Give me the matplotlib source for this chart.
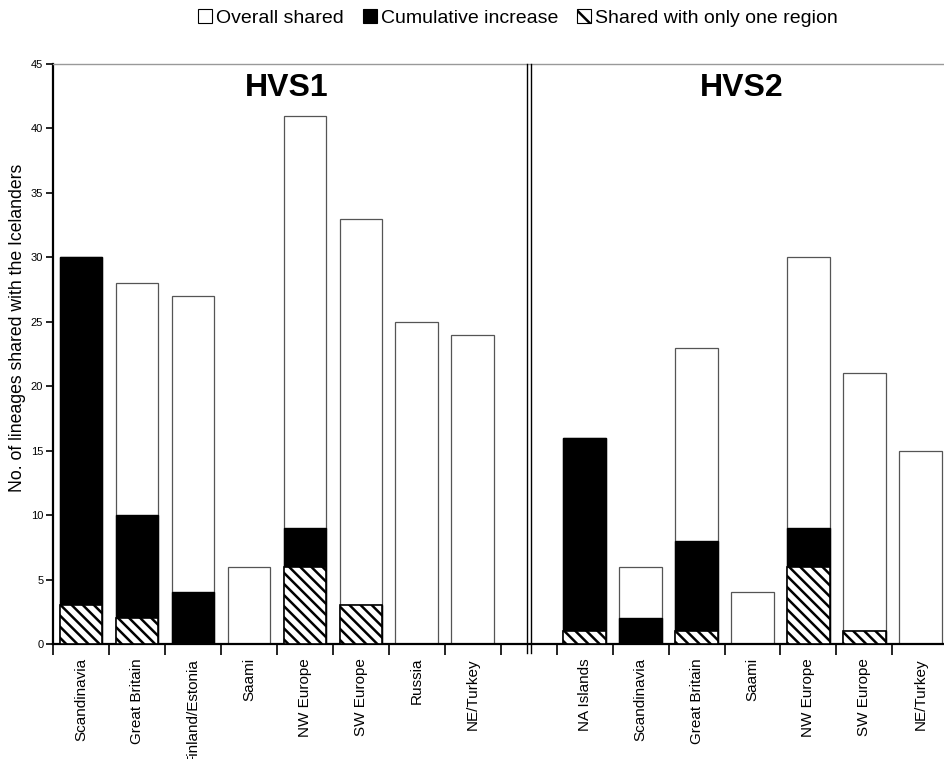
import matplotlib
matplotlib.use("Agg")
import matplotlib.pyplot as plt
from matplotlib.patches import Patch
import numpy as np

plt.rcParams['font.family'] = ['Liberation Sans', 'DejaVu Sans']
plt.rcParams['hatch.linewidth'] = 1.8

# ---- data ----
categories_hvs1 = ['Scandinavia', 'Great Britain', 'Finland/Estonia', 'Saami',
                   'NW Europe', 'SW Europe', 'Russia', 'NE/Turkey']
overall_hvs1 = [30, 28, 27, 6, 41, 33, 25, 24]
cumulative_hvs1 = [30, 10, 4, 0, 9, 3, 0, 0]
one_region_hvs1 = [3, 2, 0, 0, 6, 3, 0, 0]

categories_hvs2 = ['NA Islands', 'Scandinavia', 'Great Britain', 'Saami',
                   'NW Europe', 'SW Europe', 'NE/Turkey']
overall_hvs2 = [16, 6, 23, 4, 30, 21, 15]
cumulative_hvs2 = [16, 2, 8, 0, 9, 1, 0]
one_region_hvs2 = [1, 0, 1, 0, 6, 1, 0]

legend_labels = ['Overall shared', 'Cumulative increase', 'Shared with only one region']
panel_titles = ['HVS1', 'HVS2']
y_label = 'No. of lineages shared with the Icelanders'

# ---- layout ----
fig = plt.figure(figsize=(9.45, 7.59), dpi=100)
ax = fig.add_axes([53 / 945, 115 / 759, 892 / 945, 580 / 759])

pos1 = np.arange(len(categories_hvs1))
gap = len(categories_hvs1)  # slot of the divider
pos2 = np.arange(len(categories_hvs2)) + gap + 1
width = 0.76
hatch = '\\\\\\'

for pos, ov, cu, one in [(pos1, overall_hvs1, cumulative_hvs1, one_region_hvs1),
                         (pos2, overall_hvs2, cumulative_hvs2, one_region_hvs2)]:
    ax.bar(pos, ov, width, color='white', edgecolor='#555555', linewidth=0.9, zorder=2)
    ax.bar(pos, cu, width, color='black', edgecolor='black', linewidth=1.0, zorder=3)
    ax.bar(pos, one, width, color='white', edgecolor='black', linewidth=1.2,
           hatch=hatch, zorder=4)

ax.set_xlim(-0.5, 15.44)
ax.set_ylim(0, 45)
ax.set_yticks(np.arange(0, 46, 5))
ax.tick_params(axis='y', direction='out', length=5, width=1.2, labelsize=8, pad=2)

# tick marks between categories, labels at category centers
all_pos = list(pos1) + list(pos2)
all_labels = categories_hvs1 + categories_hvs2
ax.set_xticks(np.arange(-0.5, 15.5, 1.0))
ax.set_xticklabels([])
ax.set_xticks(all_pos, minor=True)
ax.set_xticklabels(all_labels, minor=True, rotation=90, fontsize=11)
ax.tick_params(axis='x', which='major', direction='out', length=8, width=1.2)
ax.tick_params(axis='x', which='minor', length=0, pad=10)

ax.spines['right'].set_visible(False)
ax.spines['top'].set_color('#999999')
ax.spines['top'].set_linestyle((0, (2, 1)))
ax.spines['top'].set_linewidth(1.0)
ax.spines['left'].set_linewidth(1.6)
ax.spines['bottom'].set_linewidth(1.6)

# double divider line
for dx in (-0.036, 0.036):
    ax.plot([gap + dx, gap + dx], [-0.7, 45], color='black', lw=1.0,
            clip_on=False, zorder=5)

ax.text(3.67, 43.1, panel_titles[0], ha='center', va='center',
        fontsize=23, fontweight='bold')
ax.text(11.8, 43.1, panel_titles[1], ha='center', va='center',
        fontsize=23, fontweight='bold')

fig.text(18 / 945, 1 - 328 / 759, y_label, rotation=90, ha='center',
         va='center', fontsize=12.7)

handles = [Patch(facecolor='white', edgecolor='black', linewidth=0.8),
           Patch(facecolor='black', edgecolor='black', linewidth=0.8),
           Patch(facecolor='white', edgecolor='black', linewidth=0.8, hatch='\\\\')]
fig.legend(handles, legend_labels, loc='center', bbox_to_anchor=(518 / 945, 1 - 18 / 759),
           ncol=3, frameon=False, fontsize=14, handlelength=0.7, handleheight=0.7,
           handletextpad=0.2, columnspacing=1.0, borderpad=0)

fig.savefig('out.png', dpi=100)
